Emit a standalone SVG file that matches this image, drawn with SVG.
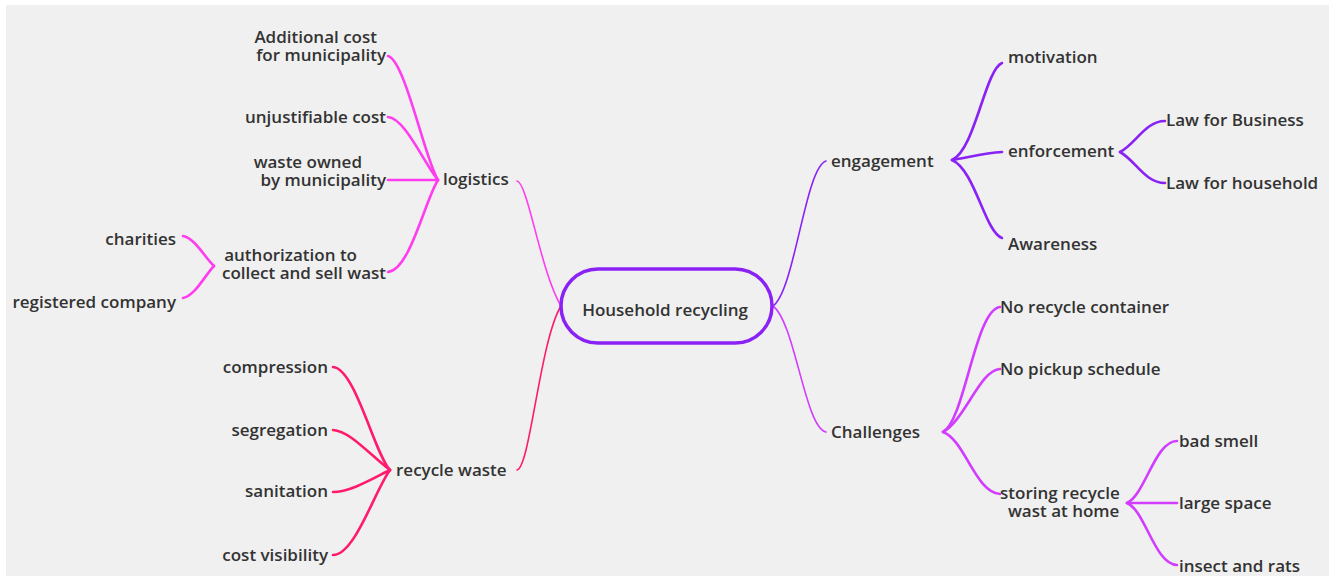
<svg xmlns="http://www.w3.org/2000/svg" width="1329" height="576" viewBox="0 0 1329 576">
<style>
.t{font-family:"Open Sans","Noto Sans","Liberation Sans",sans-serif;font-weight:600;font-size:17px;fill:#333333}
.e{text-anchor:end}
.c{fill:none;stroke-linecap:round;stroke-linejoin:round}
.main{stroke-width:1.6}
.sub{stroke-width:2.6}
.lg{stroke:#ff3cf0}
.rw{stroke:#ff1a6e}
.en{stroke:#8a22f5}
.ch{stroke:#d23cff}
</style>
<rect x="0" y="0" width="1329" height="576" fill="#ffffff"/>
<rect x="6" y="5" width="1323" height="571" fill="#f0f0f0"/>
<g id="connectors">
<path class="c main lg" d="M561,306 C540,270 528,183 517,181"/>
<path class="c main rw" d="M561,306 C540,340 530,468 517,470"/>
<path class="c main en" d="M773,306 C795,290 805,168 826,161"/>
<path class="c main ch" d="M773,306 C795,322 805,428 826,432"/>
<path class="c sub lg" d="M438,180 C425,160 405,60 388,56"/>
<path class="c sub lg" d="M438,180 C425,165 405,118 388,117"/>
<path class="c sub lg" d="M438,180 L388,180"/>
<path class="c sub lg" d="M438,180 C425,200 410,270 388,272"/>
<path class="c sub lg" d="M214,266 C205,258 195,238 183,236"/>
<path class="c sub lg" d="M214,266 C205,275 195,296 183,298"/>
<path class="c sub rw" d="M390,470 C375,455 355,368 333,367"/>
<path class="c sub rw" d="M390,470 C370,455 350,431 333,430"/>
<path class="c sub rw" d="M390,470 C370,480 350,492 333,492"/>
<path class="c sub rw" d="M390,470 C375,490 355,555 333,555"/>
<path class="c sub en" d="M952,160 C975,150 985,70 1002,63"/>
<path class="c sub en" d="M952,160 C970,157 985,153 1002,152"/>
<path class="c sub en" d="M952,160 C975,170 985,232 1002,238"/>
<path class="c sub en" d="M1120,152 C1135,145 1145,121 1165,121"/>
<path class="c sub en" d="M1120,152 C1135,160 1145,183 1165,183"/>
<path class="c sub ch" d="M943,432 C965,420 975,310 1000,307"/>
<path class="c sub ch" d="M943,432 C965,420 980,370 1000,369"/>
<path class="c sub ch" d="M943,432 C965,440 975,492 1000,494"/>
<path class="c sub ch" d="M1127,503 C1145,495 1155,441 1177,441"/>
<path class="c sub ch" d="M1127,503 L1177,503"/>
<path class="c sub ch" d="M1127,503 C1145,510 1155,565 1177,565"/>
</g>
<g id="center">
<rect x="561" y="269" width="211" height="74" rx="37" ry="37" fill="none" stroke="#8a22f5" stroke-width="3.5"/>
<text class="t" x="665" y="316" text-anchor="middle">Household recycling</text>
</g>
<g id="logistics"><text class="t" x="443" y="185">logistics</text></g>
<g id="additional-cost"><text class="t e"><tspan x="377" y="43">Additional cost</tspan><tspan x="386" y="61">for municipality</tspan></text></g>
<g id="unjustifiable-cost"><text class="t e" x="386" y="123">unjustifiable cost</text></g>
<g id="waste-owned"><text class="t e"><tspan x="362" y="168">waste owned</tspan><tspan x="386" y="186">by municipality</tspan></text></g>
<g id="authorization"><text class="t e"><tspan x="357" y="261">authorization to</tspan><tspan x="386" y="279">collect and sell wast</tspan></text></g>
<g id="charities"><text class="t e" x="176" y="245">charities</text></g>
<g id="registered-company"><text class="t e" x="176" y="308">registered company</text></g>
<g id="recycle-waste"><text class="t" x="396" y="476">recycle waste</text></g>
<g id="compression"><text class="t e" x="328" y="373">compression</text></g>
<g id="segregation"><text class="t e" x="328" y="436">segregation</text></g>
<g id="sanitation"><text class="t e" x="328" y="497">sanitation</text></g>
<g id="cost-visibility"><text class="t e" x="328" y="561">cost visibility</text></g>
<g id="engagement"><text class="t" x="831" y="167">engagement</text></g>
<g id="motivation"><text class="t" x="1008" y="63">motivation</text></g>
<g id="enforcement"><text class="t" x="1008" y="157">enforcement</text></g>
<g id="awareness"><text class="t" x="1008" y="250">Awareness</text></g>
<g id="law-business"><text class="t" x="1166" y="126">Law for Business</text></g>
<g id="law-household"><text class="t" x="1166" y="189">Law for household</text></g>
<g id="challenges"><text class="t" x="831" y="438">Challenges</text></g>
<g id="no-container"><text class="t" x="1000" y="313">No recycle container</text></g>
<g id="no-pickup"><text class="t" x="1000" y="375">No pickup schedule</text></g>
<g id="storing"><text class="t"><tspan x="1000" y="499">storing recycle</tspan><tspan x="1008" y="517">wast at home</tspan></text></g>
<g id="bad-smell"><text class="t" x="1179" y="447">bad smell</text></g>
<g id="large-space"><text class="t" x="1179" y="509">large space</text></g>
<g id="insect-rats"><text class="t" x="1179" y="572">insect and rats</text></g>
</svg>
